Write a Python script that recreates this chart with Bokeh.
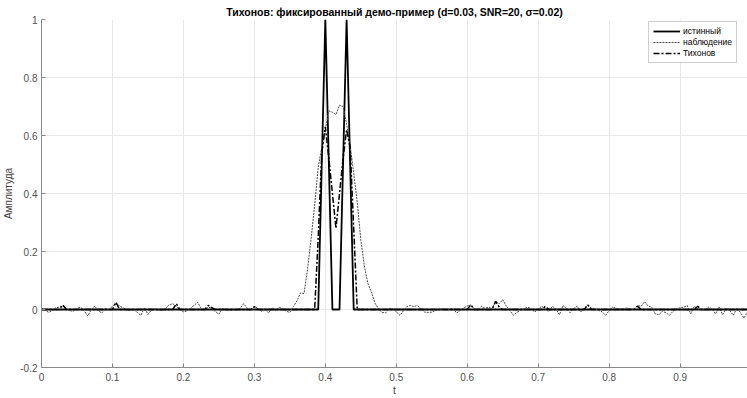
from bokeh.plotting import figure
from bokeh.models import FixedTicker, PrintfTickFormatter, Legend, LegendItem, Range1d
from bokeh.embed import file_html
from bokeh.resources import INLINE

# time grid
dt = 0.005
t = [round(i * dt, 3) for i in range(200)]

# true signal (two spikes, d = 0.03)
true_sig = [
    0, 0, 0, 0, 0, 0, 0, 0, 0, 0, 0, 0, 0, 0, 0, 0, 0, 0, 0, 0,
    0, 0, 0, 0, 0, 0, 0, 0, 0, 0, 0, 0, 0, 0, 0, 0, 0, 0, 0, 0,
    0, 0, 0, 0, 0, 0, 0, 0, 0, 0, 0, 0, 0, 0, 0, 0, 0, 0, 0, 0,
    0, 0, 0, 0, 0, 0, 0, 0, 0, 0, 0, 0, 0, 0, 0, 0, 0, 0, 0, 0.5,
    1.0, 0.5, 0, 0, 0, 0.5, 1.0, 0.5, 0, 0, 0, 0, 0, 0, 0, 0, 0, 0, 0, 0,
    0, 0, 0, 0, 0, 0, 0, 0, 0, 0, 0, 0, 0, 0, 0, 0, 0, 0, 0, 0,
    0, 0, 0, 0, 0, 0, 0, 0, 0, 0, 0, 0, 0, 0, 0, 0, 0, 0, 0, 0,
    0, 0, 0, 0, 0, 0, 0, 0, 0, 0, 0, 0, 0, 0, 0, 0, 0, 0, 0, 0,
    0, 0, 0, 0, 0, 0, 0, 0, 0, 0, 0, 0, 0, 0, 0, 0, 0, 0, 0, 0,
    0, 0, 0, 0, 0, 0, 0, 0, 0, 0, 0, 0, 0, 0, 0, 0, 0, 0, 0, 0,
]

# noisy observation
observed = [
    0.004, -0.002, -0.010, -0.004, 0.006, 0.008, 0.012, 0.002, -0.004, -0.006,
    0.004, 0.008, -0.004, -0.022, -0.002, 0.012, -0.004, -0.012, 0.002, -0.002,
    0.012, 0.020, 0.012, 0.006, -0.002, -0.004, 0.000, -0.010, -0.020, 0.006,
    -0.017, -0.002, 0.002, -0.002, -0.004, 0.004, 0.016, 0.020, 0.010, 0.000,
    -0.008, -0.005, 0.004, 0.014, 0.025, 0.004, -0.004, 0.008, 0.005, -0.007,
    -0.016, 0.004, -0.002, -0.004, -0.002, -0.002, 0.004, 0.020, 0.004, -0.004,
    0.010, 0.004, -0.006, 0.002, -0.012, 0.006, -0.004, 0.008, 0.002, -0.006,
    -0.010, 0.010, 0.030, 0.057, 0.055, 0.140, 0.245, 0.360, 0.490, 0.560,
    0.620, 0.685, 0.680, 0.672, 0.705, 0.700, 0.640, 0.565, 0.470, 0.370,
    0.240, 0.150, 0.090, 0.060, 0.022, 0.002, -0.010, -0.012, 0.004, 0.003,
    -0.008, -0.020, -0.005, 0.010, 0.014, 0.010, 0.014, 0.002, -0.009, -0.010,
    -0.009, -0.004, -0.001, 0.002, -0.002, 0.001, 0.003, -0.012, -0.004, 0.006,
    0.012, 0.016, 0.002, -0.003, 0.011, 0.004, 0.008, 0.003, 0.028, 0.020,
    0.034, 0.012, -0.003, -0.020, -0.010, -0.003, 0.002, 0.008, 0.004, -0.009,
    0.002, 0.011, 0.001, -0.007, 0.011, 0.002, -0.018, 0.014, 0.003, -0.011,
    0.004, 0.011, -0.009, 0.006, 0.014, 0.005, 0.003, -0.003, -0.008, -0.020,
    -0.004, 0.008, 0.004, 0.002, 0.003, 0.005, 0.002, 0.000, 0.014, 0.011,
    0.027, 0.012, 0.008, -0.015, -0.018, -0.006, -0.011, -0.020, -0.006, 0.002,
    0.006, 0.008, 0.014, -0.015, 0.011, 0.002, 0.001, -0.003, 0.008, 0.002,
    -0.015, 0.008, -0.018, 0.005, -0.003, -0.020, 0.005, -0.010, -0.030, -0.008,
]

# Tikhonov reconstruction
tikhonov = [
    0, 0, 0, 0, 0, 0, 0.016, 0, 0, 0, 0, 0, 0, 0, 0, 0, 0, 0, 0, 0,
    0, 0.025, 0, 0, 0, 0, 0, 0, 0, 0, 0, 0, 0, 0, 0, 0, 0, 0, 0.020, 0,
    0, 0, 0, 0, 0, 0, 0, 0.014, 0.006, 0, 0, 0, 0, 0, 0, 0, 0, 0, 0, 0,
    0.010, 0, 0, 0, 0, 0, 0, 0, 0, 0, 0, 0, 0, 0, 0, 0, 0, 0, 0.25, 0.54,
    0.63, 0.52, 0.40, 0.28, 0.40, 0.52, 0.62, 0.56, 0.28, 0, 0, 0, 0, 0, 0, 0, 0, 0, 0, 0,
    0, 0, 0, 0, 0, 0, 0, 0, 0, 0, 0, 0, 0, 0, 0, 0, 0, 0, 0, 0,
    0, 0.016, 0, 0, 0, 0, 0, 0, 0.028, 0.008, 0, 0, 0, 0, 0, 0, 0, 0, 0, 0,
    0, 0, 0.011, 0, 0, 0, 0, 0, 0, 0, 0, 0, 0, 0, 0.016, 0, 0, 0, 0, 0,
    0, 0, 0, 0, 0, 0, 0, 0, 0.011, 0, 0, 0, 0, 0, 0, 0, 0, 0, 0, 0,
    0, 0, 0, 0, 0, 0.011, 0, 0, 0, 0, 0, 0, 0, 0, 0, 0, 0, 0, 0, 0,
]

x_ticks = [0, 0.1, 0.2, 0.3, 0.4, 0.5, 0.6, 0.7, 0.8, 0.9]
y_ticks = [-0.2, 0, 0.2, 0.4, 0.6, 0.8, 1.0]
series_names = ["истинный", "наблюдение", "Тихонов"]
title_text = "Тихонов: фиксированный демо-пример (d=0.03, SNR=20, σ=0.02)"

FONT = "Liberation Sans"

p = figure(width=747, height=398, output_backend="svg", toolbar_location=None,
           x_range=Range1d(0, 0.995), y_range=Range1d(-0.2, 1.0),
           min_border_left=41, min_border_right=0, min_border_top=19,
           min_border_bottom=30, background_fill_color="white",
           border_fill_color="white")
p.outline_line_color = None

p.title.text = title_text
p.title.align = "center"
p.title.text_font = FONT
p.title.text_font_size = "10.5px"
p.title.text_font_style = "bold"
p.title.text_color = "#000000"
p.title.standoff = 4

for ax in (p.xaxis[0], p.yaxis[0]):
    ax.axis_line_color = "#8a8a8a"
    ax.major_tick_line_color = "#8a8a8a"
    ax.major_tick_in = 4
    ax.major_tick_out = 0
    ax.minor_tick_line_color = None
    ax.major_label_text_font = FONT
    ax.major_label_text_font_size = "10px"
    ax.major_label_text_color = "#505050"
    ax.axis_label_text_font = FONT
    ax.axis_label_text_font_size = "10px"
    ax.axis_label_text_font_style = "normal"
    ax.axis_label_text_color = "#404040"
    ax.formatter = PrintfTickFormatter(format="%g")

p.xaxis.ticker = FixedTicker(ticks=x_ticks)
p.yaxis.ticker = FixedTicker(ticks=y_ticks)
p.xaxis.axis_label = "t"
p.yaxis.axis_label = "Амплитуда"
p.xaxis.major_label_standoff = 5
p.xaxis.axis_label_standoff = 1
p.yaxis.major_label_standoff = 4
p.yaxis.axis_label_standoff = 3

p.xgrid.ticker = FixedTicker(ticks=x_ticks)
p.ygrid.ticker = FixedTicker(ticks=y_ticks)
p.grid.grid_line_color = "#e8e8e8"
p.grid.grid_line_width = 1

r_true = p.line(t, true_sig, line_color="#000000", line_width=1.8)
r_obs = p.line(t, observed, line_color="#4a4a4a", line_width=1, line_dash="2 1")
r_tik = p.line(t, tikhonov, line_color="#000000", line_width=1.5, line_dash="6 2 2 2")

legend = Legend(items=[LegendItem(label=series_names[0], renderers=[r_true]),
                       LegendItem(label=series_names[1], renderers=[r_obs]),
                       LegendItem(label=series_names[2], renderers=[r_tik])],
                location=(607, 304))
legend.label_text_font = FONT
legend.label_text_font_size = "8.5px"
legend.label_text_color = "#000000"
legend.glyph_width = 27
legend.glyph_height = 10
legend.label_height = 10
legend.label_standoff = 3
legend.spacing = 1
legend.padding = 4
legend.margin = 0
legend.border_line_color = "#a0a0a0"
legend.border_line_width = 1
legend.background_fill_color = "white"
legend.background_fill_alpha = 1
p.add_layout(legend)

open("out.html", "w").write(file_html(p, INLINE))
